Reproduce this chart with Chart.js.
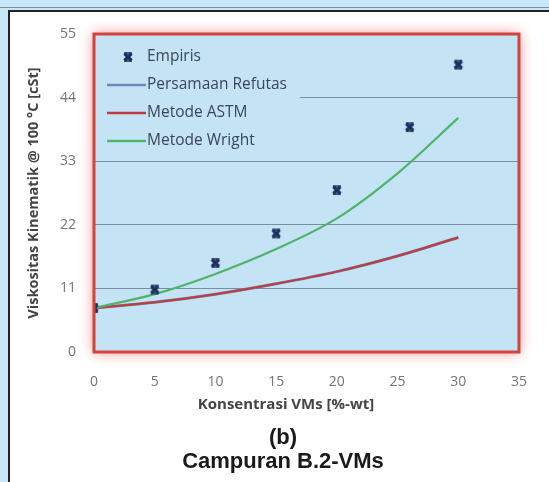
<!DOCTYPE html>
<html>
<head>
<meta charset="utf-8">
<script src="https://cdn.jsdelivr.net/npm/chart.js@4.4.1/dist/chart.umd.min.js"></script>
<style>
  html, body { margin: 0; padding: 0; }
  body { width: 549px; height: 482px; background: #c9e8f8; position: relative; overflow: hidden; }
  .topline { position: absolute; left: 0; right: 0; top: 7px; height: 1px; background: #7f8e9a; }
  .panel { position: absolute; left: 8px; top: 10px; width: 560px; height: 500px; background: #fff; border: 2px solid #222; }
  #wrap { position: absolute; left: 0; top: 0; width: 549px; height: 482px; }
  .caption { position: absolute; left: 0; width: 566px; text-align: center; font-family: "Liberation Sans", Arial, sans-serif; font-weight: bold; font-size: 22px; color: #1a1a1a; line-height: 24px; }
</style>
</head>
<body>
<div class="topline"></div>
<div class="panel"></div>
<div id="wrap"><canvas id="chart" width="549" height="482"></canvas></div>
<div class="caption" style="top: 425px;">(b)</div>
<div class="caption" style="top: 449px;">Campuran B.2-VMs</div>
<script>
// values
const xTicks = [0, 5, 10, 15, 20, 25, 30, 35];
const yTicks = [0, 11, 22, 33, 44, 55];
const empirisX = [0, 5, 10, 15, 20, 26, 30];
const empirisY = [7.6, 10.8, 15.4, 20.5, 28.0, 38.9, 49.7];
const curveX = [0, 5, 10, 15, 20, 25, 30];
const refutasY = [7.6, 8.6, 10.0, 11.8, 13.9, 16.6, 19.8];
const astmY = [7.6, 8.6, 10.0, 11.8, 13.9, 16.6, 19.8];
const wrightY = [7.6, 10.0, 13.5, 17.8, 23.1, 30.9, 40.5];

const plotBg = '#c4e4f6';
const markerColor = '#1a2f5e';

function makeMarker() {
  const c = document.createElement('canvas');
  c.width = 12;
  c.height = 12;
  const g = c.getContext('2d');
  g.strokeStyle = markerColor;
  g.lineWidth = 3.2;
  g.beginPath();
  g.moveTo(2.5, 2.5); g.lineTo(9.5, 9.5);
  g.moveTo(9.5, 2.5); g.lineTo(2.5, 9.5);
  g.stroke();
  g.lineWidth = 1.6;
  g.beginPath();
  g.moveTo(2, 2); g.lineTo(10, 2);
  g.moveTo(2, 10); g.lineTo(10, 10);
  g.stroke();
  return c;
}
const marker = makeMarker();

const toPoints = (xs, ys) => xs.map((x, i) => ({ x: x, y: ys[i] }));

const legendItems = [
  { label: 'Empiris', type: 'marker' },
  { label: 'Persamaan Refutas', color: '#6f87b2' },
  { label: 'Metode ASTM', color: '#c43a3a' },
  { label: 'Metode Wright', color: '#4fb467' },
];

const plotFrame = {
  id: 'plotFrame',
  beforeDraw(chart) {
    const { ctx, chartArea: a } = chart;
    ctx.save();
    ctx.shadowColor = 'rgba(245, 110, 110, 0.85)';
    ctx.shadowBlur = 13;
    ctx.fillStyle = plotBg;
    ctx.fillRect(a.left, a.top, a.right - a.left, a.bottom - a.top);
    ctx.restore();
  },
  afterDatasetsDraw(chart) {
    const { ctx, chartArea: a } = chart;
    ctx.save();
    ctx.fillStyle = plotBg;
    ctx.fillRect(a.left, a.top, 206, 118);
    ctx.font = '15.5px "Open Sans"';
    ctx.textBaseline = 'middle';
    legendItems.forEach((it, i) => {
      const y = a.top + 23 + i * 28;
      if (it.type === 'marker') {
        ctx.drawImage(marker, a.left + 28, y - 6);
      } else {
        ctx.strokeStyle = it.color;
        ctx.lineWidth = 2.5;
        ctx.beginPath();
        ctx.moveTo(a.left + 13, y);
        ctx.lineTo(a.left + 52, y);
        ctx.stroke();
      }
      ctx.fillStyle = '#3b4657';
      ctx.fillText(it.label, a.left + 53, y);
    });
    ctx.restore();
  },
  afterDraw(chart) {
    const { ctx, chartArea: a } = chart;
    ctx.save();
    ctx.strokeStyle = '#d4433b';
    ctx.lineWidth = 3;
    ctx.strokeRect(a.left, a.top, a.right - a.left, a.bottom - a.top);
    // x axis title, placed like the reference (left of the plot centre)
    ctx.font = 'bold 15px "Open Sans"';
    ctx.fillStyle = '#444';
    ctx.textAlign = 'center';
    ctx.textBaseline = 'middle';
    ctx.fillText('Konsentrasi VMs [%-wt]', 286, 405);
    ctx.restore();
  },
};

new Chart(document.getElementById('chart'), {
  type: 'scatter',
  data: {
    datasets: [
      {
        label: 'Empiris',
        data: toPoints(empirisX, empirisY),
        pointStyle: marker,
        pointRadius: 6,
        showLine: false,
      },
      {
        label: 'Metode Wright',
        data: toPoints(curveX, wrightY),
        showLine: true,
        borderColor: '#4fb467',
        borderWidth: 2.2,
        pointRadius: 0,
        cubicInterpolationMode: 'monotone',
      },
      {
        label: 'Metode ASTM',
        data: toPoints(curveX, astmY),
        showLine: true,
        borderColor: '#c43a3a',
        borderWidth: 2,
        pointRadius: 0,
        cubicInterpolationMode: 'monotone',
      },
      {
        label: 'Persamaan Refutas',
        data: toPoints(curveX, refutasY),
        showLine: true,
        borderColor: '#6f87b2',
        borderWidth: 3,
        pointRadius: 0,
        cubicInterpolationMode: 'monotone',
      },
    ],
  },
  options: {
    responsive: false,
    animation: false,
    layout: { padding: { left: 0, top: 34, right: 18, bottom: 68 } },
    plugins: {
      legend: { display: false },
      tooltip: { enabled: false },
    },
    scales: {
      x: {
        type: 'linear',
        min: xTicks[0],
        max: xTicks[xTicks.length - 1],
        afterBuildTicks: (s) => { s.ticks = xTicks.map((v) => ({ value: v })); },
        afterFit: (s) => { s.height = 62; },
        grid: { display: false, drawTicks: false },
        border: { display: false },
        ticks: { padding: 22, color: '#747474', font: { family: 'Open Sans', size: 14 } },
        title: { display: false },
      },
      y: {
        min: yTicks[0],
        max: yTicks[yTicks.length - 1],
        afterBuildTicks: (s) => { s.ticks = yTicks.map((v) => ({ value: v })); },
        afterFit: (s) => { s.width = 94; },
        grid: { color: '#7b8c9e', lineWidth: 1, drawTicks: false },
        border: { display: false },
        ticks: { padding: 18, color: '#747474', font: { family: 'Open Sans', size: 14 } },
        title: {
          display: true,
          text: 'Viskositas Kinematik @ 100 °C [cSt]',
          color: '#444',
          padding: { top: 25, bottom: 0 },
          font: { family: 'Open Sans', size: 14.5, weight: 'bold' },
        },
      },
    },
  },
  plugins: [plotFrame],
});
</script>
</body>
</html>
